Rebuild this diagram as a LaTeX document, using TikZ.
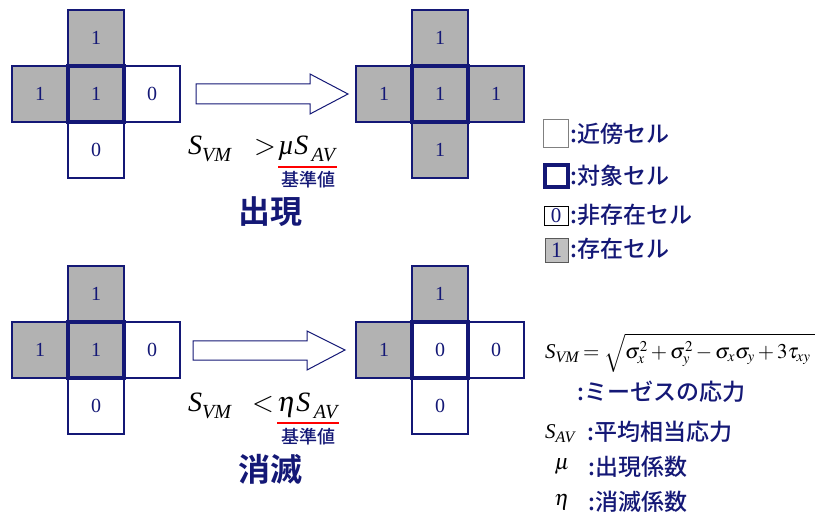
\documentclass[tikz,border=0pt]{standalone}
\usepackage{mathptmx}
\usepackage[no-math]{fontspec}
\setmainfont{Liberation Serif}
\newfontfamily\jpfont{Noto Sans CJK JP Medium}
\newfontfamily\jpboldfont{Noto Sans CJK JP Bold}
\DeclareMathSizes{21}{21}{15}{11}
\definecolor{navyc}{RGB}{20,24,118}
\definecolor{cellgray}{RGB}{178,178,178}
\definecolor{keygray}{RGB}{192,192,192}
\newcommand\fs[1]{\fontsize{#1}{#1}\selectfont}
% italic symbol with a lowered, fairly large subscript
\newcommand\bigsub[2]{\textit{#1}\raisebox{-7pt}{\fs{20}\textit{#2}}}
\newcommand\smallsub[2]{\textit{#1}\raisebox{-4.5pt}{\fs{16}\textit{#2}}}
\begin{document}
\begin{tikzpicture}[x=1pt,y=-1pt,
  cellbox/.style={draw=navyc, line width=1.1pt, minimum size=56pt, inner sep=0pt,
    font=\fs{20}, text=navyc},
  oncell/.style={cellbox, fill=cellgray},
  offcell/.style={cellbox, fill=white},
  focus/.style={line width=3.8pt},
  jp/.style={text=navyc, font=\jpfont\fs{23}, inner sep=0pt},
  jpsmall/.style={text=navyc, font=\jpfont\fs{18}, inner sep=0pt},
  jpbig/.style={text=navyc, font=\jpboldfont\fs{32}, inner sep=0pt},
  eq/.style={font=\fs{28}, inner sep=0pt},
  eqsmall/.style={font=\fs{21}, inner sep=0pt},
  blockarrow/.style={draw=navyc, fill=white, line width=1pt},
  refline/.style={draw=red, line width=1.3pt},
]
\useasboundingbox (0,0) rectangle (816,518);

% ---- appearance: before ----
\node[oncell]  (a-n) at (96,38)  {1};
\node[oncell]  (a-w) at (40,94)  {1};
\node[offcell] (a-e) at (152,94) {0};
\node[offcell] (a-s) at (96,150) {0};
\node[oncell, focus] (a-c) at (96,94) {1};

% ---- appearance: after ----
\node[oncell] (b-n) at (440,38)  {1};
\node[oncell] (b-w) at (384,94)  {1};
\node[oncell] (b-e) at (496,94)  {1};
\node[oncell] (b-s) at (440,150) {1};
\node[oncell, focus] (b-c) at (440,94) {1};

\draw[blockarrow] (196,84) -- (310,84) -- (310,74) -- (348,94) -- (310,114)
  -- (310,104) -- (196,104) -- cycle;

\node[eq, anchor=base west] (up-l) at (188,155) {\bigsub{S}{VM}};
\node[eq, anchor=base] (up-r) at (265,155) {$>$};
\node[eq, anchor=base west] (up-x) at (278,155) {\textit{\textmu}\bigsub{S}{\,AV}};
\draw[refline] ([yshift=-12pt]up-x.base west) -- ([yshift=-12pt]up-x.base east);
\node[jpsmall] (up-k) at (308,180) {基準値};
\node[jpbig] (up-t) at (270,212) {出現};

% ---- disappearance: before ----
\node[oncell]  (c-n) at (96,294) {1};
\node[oncell]  (c-w) at (40,350) {1};
\node[offcell] (c-e) at (152,350) {0};
\node[offcell] (c-s) at (96,406) {0};
\node[oncell, focus] (c-c) at (96,350) {1};

% ---- disappearance: after ----
\node[oncell]  (d-n) at (440,294) {1};
\node[oncell]  (d-w) at (384,350) {1};
\node[offcell] (d-e) at (496,350) {0};
\node[offcell] (d-s) at (440,406) {0};
\node[offcell, focus] (d-c) at (440,350) {0};

\draw[blockarrow] (193,341) -- (307,341) -- (307,331) -- (345,350) -- (307,370)
  -- (307,360) -- (193,360) -- cycle;

\node[eq, anchor=base west] (dn-l) at (188,411) {\bigsub{S}{VM}};
\node[eq, anchor=base] (dn-r) at (263,411) {$<$};
\node[eq, anchor=base west] (dn-x) at (277,411) {$\eta$\bigsub{S}{\,AV}};
\draw[refline] ([yshift=-12pt]dn-x.base west) -- ([yshift=-12pt]dn-x.base east);
\node[jpsmall] (dn-k) at (308,437) {基準値};
\node[jpbig] (dn-t) at (270,469) {消滅};

% ---- legend ----
\node[draw=gray, line width=1pt, minimum width=25pt, minimum height=28pt, inner sep=0pt]
  (k1) at (555.5,134) {};
\node[jp, anchor=west] (k1t) at (570,134) {:近傍セル};
\node[draw=navyc, line width=4pt, minimum width=23pt, minimum height=22pt, inner sep=0pt]
  (k2) at (556.5,176) {};
\node[jp, anchor=west] (k2t) at (570,176) {:対象セル};
\node[draw=black, line width=0.8pt, minimum width=24pt, minimum height=19pt, inner sep=0pt,
  text=navyc, font=\fs{21}] (k3) at (556,215.5) {0};
\node[jp, anchor=west] (k3t) at (570,215) {:非存在セル};
\node[draw=gray!70!black, fill=keygray, line width=0.8pt, minimum width=23pt,
  minimum height=24pt, inner sep=0pt, text=navyc, font=\fs{22}] (k4) at (556.5,250) {1};
\node[jp, anchor=west] (k4t) at (570,249) {:存在セル};

% ---- definitions ----
\node[eqsmall, anchor=base west] (vm) at (545,358)
  {\smallsub{S}{VM}\,$=\sqrt{\sigma_x^2+\sigma_y^2-\sigma_x\sigma_y+3\tau_{xy}\hspace{4pt}}$};
\node[jp, anchor=west] (vmt) at (577,392) {:ミーゼスの応力};
\node[eqsmall, anchor=base west] (av) at (545,438) {\smallsub{S}{AV}};
\node[jp, anchor=west] (avt) at (587,432) {:平均相当応力};
\node[eqsmall, font=\fs{22}] (mu) at (562,467) {$\mu$};
\node[jp, anchor=west] (mut) at (588,467) {:出現係数};
\node[eqsmall, font=\fs{22}] (eta) at (562,502) {$\eta$};
\node[jp, anchor=west] (etat) at (588,502) {:消滅係数};
\end{tikzpicture}
\end{document}
